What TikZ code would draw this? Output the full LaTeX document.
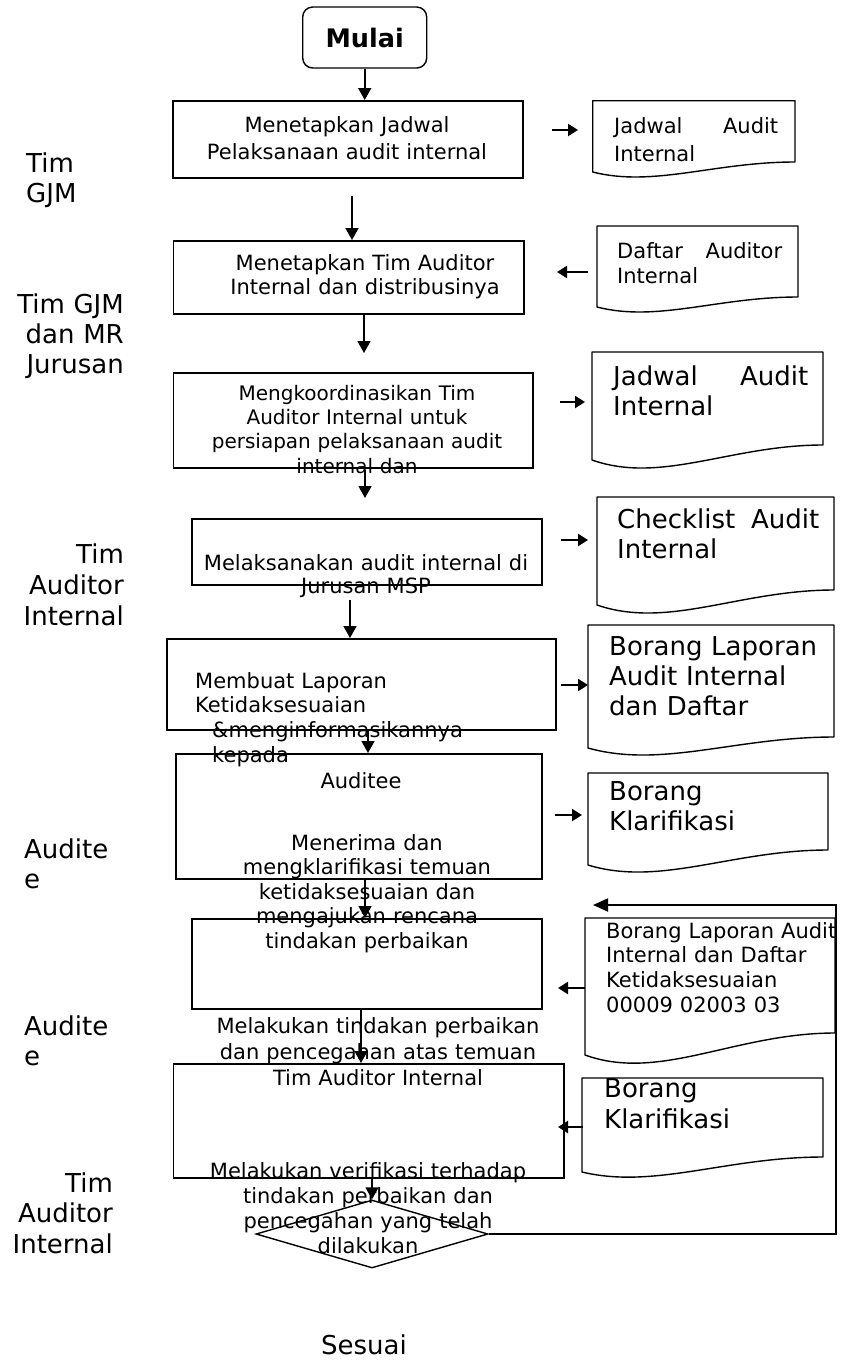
\documentclass[tikz,border=0pt]{standalone}
\usepackage{fontspec}
\setmainfont{DejaVu Sans}
\usetikzlibrary{arrows.meta,shapes.geometric}
\newcommand\fsz[2]{\fontsize{#1}{#2}\selectfont}
% x0, x1, ytop, y left-bottom, y right-bottom, wave depth
\newcommand\docpath[6]{%
  \draw[docline] (#1,#4) -- (#1,#3) -- (#2,#3) -- (#2,#5)
    .. controls ({#1+0.6*(#2-#1)},#5) and ({#1+0.3*(#2-#1)},{#4+#6}) .. (#1,#4) -- cycle;}
\tikzset{
  boxst/.style={draw, line width=1.5pt, inner sep=0pt, anchor=north west},
  docline/.style={line width=1.4pt, line join=round},
  arr/.style={line width=1.7pt, -{Triangle[length=12pt,width=13pt]}},
  sarr/.style={line width=2.2pt, -{Triangle[length=10pt,width=12pt]}},
  fb/.style={line width=1.9pt, -{Triangle[length=15pt,width=13pt]}},
  ctext/.style={align=center, text width=420pt, inner sep=0pt, anchor=base},
  ltext/.style={align=left, inner sep=0pt, anchor=base west},
  rtext/.style={align=right, inner sep=0pt, anchor=base east, text width=130pt},
  small/.style={font=\fsz{21}{25}},
  big/.style={font=\fsz{26}{30}},
}
\begin{document}
\begin{tikzpicture}[x=1pt,y=-1pt]
\useasboundingbox (0,0) rectangle (841,1360);
\fill[white] (0,0) rectangle (841,1360);

% start
\node[draw, rounded corners=10pt, line width=1.4pt, minimum width=124pt, minimum height=61pt,
      inner sep=0pt, font=\bfseries\fsz{25.5}{30}] (mulai) at (364.7,37.5) {Mulai};

% process boxes
\node[boxst, minimum width=350pt, minimum height=77pt] (b1) at (172,100) {};
\node[boxst, minimum width=350.5pt, minimum height=73pt] (b2) at (172.5,240) {};
\node[boxst, minimum width=359.5pt, minimum height=95pt] (b3) at (172.5,372) {};
\node[boxst, minimum width=350pt, minimum height=66pt] (b4) at (191,518) {};
\node[boxst, minimum width=389pt, minimum height=91pt] (b5) at (166,638) {};
\node[boxst, minimum width=366pt, minimum height=125pt] (b6) at (175,753) {};
\node[boxst, minimum width=350pt, minimum height=90pt] (b7) at (191,918) {};
\node[boxst, minimum width=390.5pt, minimum height=114pt] (b8) at (172.5,1063) {};
\node[diamond, draw, line width=1.4pt, inner sep=0pt, minimum width=232pt, minimum height=68pt] (dia) at (372,1234) {};

% box texts
\node[ctext, font=\fsz{21}{27}] (t1) at (347,132) {Menetapkan Jadwal\\Pelaksanaan audit internal};
\node[ctext, font=\fsz{21}{24}] (t2) at (365,270) {Menetapkan Tim Auditor\\Internal dan distribusinya};
\node[ctext, font=\fsz{20}{24.4}] (t3) at (357,400) {Mengkoordinasikan Tim\\Auditor Internal untuk\\persiapan pelaksanaan audit\\internal dan};
\node[ctext, font=\fsz{21}{23.5}] (t4) at (366,570) {Melaksanakan audit internal di\\Jurusan MSP};
\node[ltext, text width=320pt, font=\fsz{21}{24.7}] (t5) at (195,688) {Membuat Laporan\\Ketidaksesuaian\\\hspace*{17pt}\&menginformasikannya\\\hspace*{17pt}kepada};
\node[ctext, font=\fsz{21}{25}] (t5b) at (361,788) {Auditee};
\node[ctext, font=\fsz{21}{24.5}] (t6) at (367,850) {Menerima dan\\mengklarifikasi temuan\\ketidaksesuaian dan\\mengajukan rencana\\tindakan perbaikan};
\node[ctext, font=\fsz{21}{26}] (t7) at (378,1033) {Melakukan tindakan perbaikan\\dan pencegahan atas temuan\\Tim Auditor Internal};
\node[ctext, font=\fsz{21}{25}] (t8) at (368,1178) {Melakukan verifikasi terhadap\\tindakan perbaikan dan\\pencegahan yang telah\\dilakukan};
\node[ctext, big] (sesuai) at (364,1354) {Sesuai};

% documents
\docpath{592.7}{795}{100.7}{172}{162}{15.5}
\docpath{597}{798}{226}{307}{297}{15.5}
\docpath{592}{823}{352}{460}{445}{24.5}
\docpath{597}{834}{497}{605}{590}{24.5}
\docpath{588}{834}{625}{748}{737}{20.7}
\docpath{588}{828}{773}{865}{850}{22.1}
\docpath{585}{835}{918}{1055}{1033}{27.1}
\docpath{582}{823}{1078}{1172}{1157}{17.4}

\node[ltext, small, font=\fsz{21}{28}, text width=164pt] (d1) at (614,133) {\makebox[\linewidth]{Jadwal\hfill Audit}\\Internal};
\node[ltext, small, text width=165pt] (d2) at (617,258) {\makebox[\linewidth]{Daftar\hfill Auditor}\\Internal};
\node[ltext, big, text width=195pt] (d3) at (613,385) {\makebox[\linewidth]{Jadwal\hfill Audit}\\Internal};
\node[ltext, big, text width=202pt] (d4) at (617,528) {\makebox[\linewidth]{Checklist\hfill Audit}\\Internal};
\node[ltext, big, text width=225pt] (d5) at (609,655) {Borang Laporan\\Audit Internal\\dan Daftar};
\node[ltext, big, text width=215pt] (d6) at (609,800) {Borang\\Klarifikasi};
\node[ltext, font=\fsz{21}{24.7}, text width=235pt] (d7) at (606,938) {Borang Laporan Audit\\Internal dan Daftar\\Ketidaksesuaian\\00009 02003 03};
\node[ltext, font=\fsz{26}{31}, text width=215pt] (d8) at (604,1097) {Borang\\Klarifikasi};

% lane labels
\node[ltext, big, text width=120pt] (l1) at (26,172) {Tim\\GJM};
\node[rtext, big] (l2) at (124,313) {Tim GJM\\dan MR\\Jurusan};
\node[rtext, font=\fsz{26}{31}] (l3) at (124,563) {Tim\\Auditor\\Internal};
\node[ltext, big, text width=120pt] (l4) at (24,858) {Audite\\e};
\node[ltext, big, text width=120pt] (l5) at (24,1035) {Audite\\e};
\node[rtext, font=\fsz{26}{30.5}] (l6) at (113,1192) {Tim\\Auditor\\Internal};

% main flow arrows
\draw[arr] (mulai.south) -- (mulai.south |- b1.north);
\coordinate (a2s) at (352,196);
\draw[arr] (a2s) -- (a2s |- b2.north);
\coordinate (a3e) at (364,353);
\draw[arr] (a3e |- b2.south) -- (a3e);
\coordinate (a4s) at (365,470);
\coordinate (a4e) at (365,498);
\draw[arr] (a4s) -- (a4e);
\coordinate (a5s) at (350,600);
\draw[arr] (a5s) -- (a5s |- b5.north);
\coordinate (a6) at (368,0);
\draw[arr] (a6 |- b5.south) -- (a6 |- b6.north);
\coordinate (a7) at (365,0);
\draw[arr] (a7 |- b6.south) -- (a7 |- b7.north);
\coordinate (a8) at (361,0);
\draw[arr] (a8 |- b7.south) -- (a8 |- b8.north);
\draw[arr] (dia.north |- b8.south) -- (dia.north);

% feedback loop
\coordinate (fbc) at (836,905);
\coordinate (fbe) at (593,905);
\draw[fb] (dia.east) -| (fbc) -- (fbe);

% document arrows
\coordinate (s1a) at (552,130);   \coordinate (s1b) at (578,130);
\coordinate (s2a) at (588,272);   \coordinate (s2b) at (557,272);
\coordinate (s3a) at (560,402);   \coordinate (s3b) at (585,402);
\coordinate (s4a) at (561,540);   \coordinate (s4b) at (588,540);
\coordinate (s5a) at (561,685);   \coordinate (s5b) at (588,685);
\coordinate (s6a) at (555,815);   \coordinate (s6b) at (582,815);
\coordinate (s7a) at (585,988);   \coordinate (s7b) at (558,988);
\coordinate (s8a) at (583,1127);  \coordinate (s8b) at (558,1127);
\draw[sarr] (s1a) -- (s1b);
\draw[sarr] (s2a) -- (s2b);
\draw[sarr] (s3a) -- (s3b);
\draw[sarr] (s4a) -- (s4b);
\draw[sarr] (s5a) -- (s5b);
\draw[sarr] (s6a) -- (s6b);
\draw[sarr] (s7a) -- (s7b);
\draw[sarr] (s8a) -- (s8b);
\end{tikzpicture}
\end{document}
